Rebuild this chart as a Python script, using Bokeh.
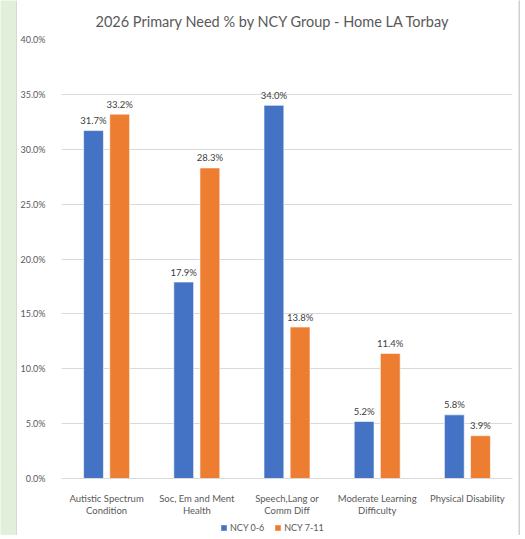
from bokeh.plotting import figure
from bokeh.layouts import row, column
from bokeh.models import (ColumnDataSource, FactorRange, Range1d, NumeralTickFormatter,
                          FixedTicker, Legend, LegendItem)
from bokeh.transform import dodge
from bokeh.embed import file_html
from bokeh.resources import INLINE
from bokeh.core.properties import value

categories = ["Autistic Spectrum\nCondition", "Soc, Em and Ment\nHealth",
              "Speech,Lang or\nComm Diff", "Moderate Learning\nDifficulty",
              "Physical Disability"]
series_names = ["NCY 0-6", "NCY 7-11"]
ncy_0_6 = [31.7, 17.9, 34.0, 5.2, 5.8]
ncy_7_11 = [33.2, 28.3, 13.8, 11.4, 3.9]
y_ticks = [0.0, 0.05, 0.10, 0.15, 0.20, 0.25, 0.30, 0.35, 0.40]

src = ColumnDataSource(dict(
    cat=categories,
    a=[v / 100 for v in ncy_0_6],
    b=[v / 100 for v in ncy_7_11],
    la=["%.1f%%" % v for v in ncy_0_6],
    lb=["%.1f%%" % v for v in ncy_7_11],
))

FONT = "Lato"
TXT = "#595959"
BLUE = "#4472C4"
ORANGE = "#ED7D31"
H = 535
HP = 518
W = 501


def side_strip(w, fill):
    s = figure(width=w, height=H, x_range=Range1d(0, 1), y_range=Range1d(0, 1),
               x_axis_type=None, y_axis_type=None, toolbar_location=None,
               output_backend="svg", min_border=0,
               background_fill_color=fill, border_fill_color=fill,
               outline_line_color=None)
    s.grid.grid_line_color = None
    return s


strip = side_strip(17, "#e2efda")
strip.segment(x0=[0.97], y0=[0], x1=[0.97], y1=[1], line_color="#c9c9c9", line_width=1)
rstrip = side_strip(2, "#d0d0d0")

p = figure(width=W, height=HP, x_range=FactorRange(*categories, range_padding=0),
           y_range=Range1d(0, 0.40), output_backend="svg", toolbar_location=None,
           min_border_left=43, min_border_right=6, min_border_top=39,
           min_border_bottom=HP - 478)
p.x_range.factor_padding = 0
p.outline_line_color = None
p.background_fill_color = "white"
p.border_fill_color = "white"

p.title.text = "2026 Primary Need % by NCY Group - Home LA Torbay"
p.title.align = "left"
p.title.offset = 34
p.title.standoff = 20
p.title.text_font = FONT
p.title.text_font_size = "14.5px"
p.title.text_font_style = "normal"
p.title.text_color = TXT

p.vbar(x=dodge("cat", -0.145, range=p.x_range), top="a", width=0.22, source=src,
       fill_color=BLUE, line_color="white", line_width=0.6)
p.vbar(x=dodge("cat", 0.145, range=p.x_range), top="b", width=0.22, source=src,
       fill_color=ORANGE, line_color="white", line_width=0.6)

p.text(x=dodge("cat", -0.145, range=p.x_range), y="a", text="la", source=src,
       text_align="center", text_baseline="middle", y_offset=-10,
       text_font=value(FONT), text_font_size="9.5px", text_color="#404040")
p.text(x=dodge("cat", 0.145, range=p.x_range), y="b", text="lb", source=src,
       text_align="center", text_baseline="middle", y_offset=-10,
       text_font=value(FONT), text_font_size="9.5px", text_color="#404040")

p.xgrid.grid_line_color = None
p.ygrid.grid_line_color = "#d9d9d9"
p.ygrid.ticker = FixedTicker(ticks=y_ticks)

p.yaxis.ticker = FixedTicker(ticks=y_ticks)
p.yaxis.formatter = NumeralTickFormatter(format="0.0%")
p.yaxis.axis_line_color = None
p.yaxis.major_tick_line_color = None
p.yaxis.minor_tick_line_color = None
p.yaxis.major_label_standoff = 10
p.yaxis.major_label_text_font = FONT
p.yaxis.major_label_text_font_size = "9px"
p.yaxis.major_label_text_color = TXT

p.xaxis.axis_line_color = "#d9d9d9"
p.xaxis.major_tick_line_color = None
p.xaxis.minor_tick_line_color = None
p.xaxis.major_label_standoff = 8
p.xaxis.major_label_text_font = FONT
p.xaxis.major_label_text_font_size = "9.5px"
p.xaxis.major_label_text_line_height = 1.1
p.xaxis.major_label_text_color = TXT

# legend strip below the chart
legfig = figure(width=W, height=H - HP, x_range=Range1d(0, 1), y_range=Range1d(0, 1),
                x_axis_type=None, y_axis_type=None, toolbar_location=None,
                output_backend="svg", min_border=0, outline_line_color=None,
                background_fill_color="white", border_fill_color="white")
legfig.grid.grid_line_color = None
offscreen = ColumnDataSource(dict(x=[-10], top=[0]))
lb = legfig.vbar(x="x", top="top", width=0.1, source=offscreen, fill_color=BLUE, line_color=None)
lo = legfig.vbar(x="x", top="top", width=0.1, source=offscreen, fill_color=ORANGE, line_color=None)
legend = Legend(items=[LegendItem(label=series_names[0], renderers=[lb]),
                       LegendItem(label=series_names[1], renderers=[lo])],
                orientation="horizontal", location=(159, 2),
                glyph_width=7, glyph_height=7, label_text_font=FONT,
                label_text_font_size="9px", label_text_color=TXT,
                border_line_color=None, background_fill_alpha=0,
                spacing=10, padding=0, margin=0, label_standoff=3,
                label_height=9)
legfig.add_layout(legend, "center")

layout = row(strip, column(p, legfig, spacing=0), rstrip, spacing=0)
open("out.html", "w").write(file_html(layout, INLINE))
